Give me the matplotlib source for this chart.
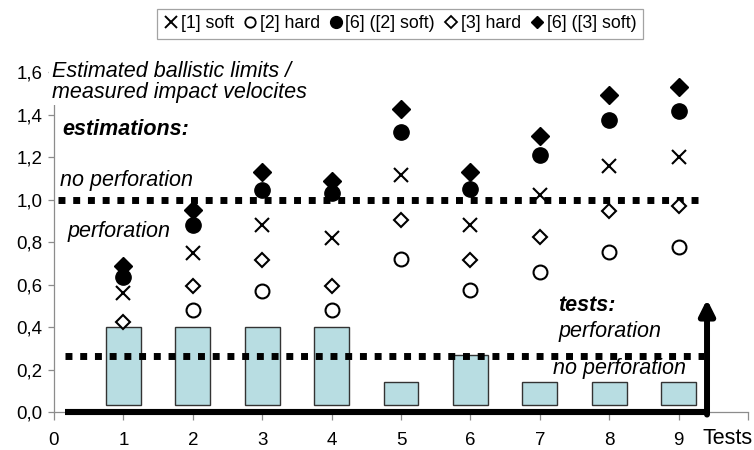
import numpy as np
import matplotlib
matplotlib.use("Agg")
import matplotlib.pyplot as plt
from matplotlib.lines import Line2D

plt.rcParams['font.family'] = ['Liberation Sans', 'DejaVu Sans']

# ---- data -------------------------------------------------------------
tests = [1, 2, 3, 4, 5, 6, 7, 8, 9]

# estimated ballistic limit / measured impact velocity
soft_1 = [0.56, 0.75, 0.88, 0.82, 1.115, 0.88, 1.02, 1.16, 1.20]
hard_2 = [np.nan, 0.48, 0.57, 0.48, 0.72, 0.575, 0.66, 0.755, 0.775]
m6_soft_2 = [0.635, 0.88, 1.045, 1.03, 1.32, 1.05, 1.21, 1.375, 1.415]
hard_3 = [0.425, 0.595, 0.715, 0.595, 0.905, 0.715, 0.825, 0.945, 0.97]
m6_soft_3 = [0.685, 0.95, 1.13, 1.085, 1.425, 1.13, 1.30, 1.49, 1.53]

# test outcome bars (tall = perforation, short = no perforation)
bar_top = [0.40, 0.40, 0.40, 0.40, 0.14, 0.27, 0.14, 0.14, 0.14]
bar_base = 0.035

est_threshold = 1.0
test_threshold = 0.265

x_ticks = [0, 1, 2, 3, 4, 5, 6, 7, 8, 9, 10]
x_ticklabels = ['0', '1', '2', '3', '4', '5', '6', '7', '8', '9', '']
y_ticks = [0.0, 0.2, 0.4, 0.6, 0.8, 1.0, 1.2, 1.4, 1.6]
y_ticklabels = ['0,0', '0,2', '0,4', '0,6', '0,8', '1,0', '1,2', '1,4', '1,6']

# ---- figure -----------------------------------------------------------
fig = plt.figure(figsize=(7.54, 4.5), dpi=100)
ax = fig.add_axes([0.0716, 0.0844, 0.9204, 0.7556])
ax.set_xlim(0, 10)
ax.set_ylim(0, 1.6)

for side in ('top', 'right'):
    ax.spines[side].set_visible(False)
for side in ('left', 'bottom'):
    ax.spines[side].set_color('#8c8c8c')
    ax.spines[side].set_linewidth(0.9)

ax.set_xticks(x_ticks)
ax.set_xticklabels(x_ticklabels)
ax.set_yticks(y_ticks)
ax.set_yticklabels(y_ticklabels)
ax.tick_params(axis='both', colors='#8c8c8c', width=0.9,
               labelsize=13.5, labelcolor='black')
ax.tick_params(axis='x', length=5.5, pad=9)
ax.tick_params(axis='y', length=4.5, pad=4)

# test outcome bars
heights = [t - bar_base for t in bar_top]
ax.bar(tests, heights, bottom=bar_base, width=0.5, color='#b8dde2',
       edgecolor='#333333', linewidth=1.0, zorder=2)

# threshold lines (square dotted)
dot = (0, (1.0, 1.12))
ax.plot([0.06, 9.3], [est_threshold, est_threshold], color='black',
        lw=5, linestyle=dot, dash_capstyle='butt', zorder=3)
ax.plot([0.16, 9.36], [test_threshold, test_threshold], color='black',
        lw=5, linestyle=dot, dash_capstyle='butt', zorder=3)

# thick base line and arrow
ax.plot([0.16, 9.43], [0, 0], color='black', lw=4.4, solid_capstyle='butt',
        zorder=4, clip_on=False)
ax.annotate('', xy=(9.41, 0.53), xytext=(9.41, -0.012),
            arrowprops=dict(arrowstyle='-|>,head_length=0.9,head_width=0.45',
                            color='black', lw=4.3, shrinkA=0, shrinkB=0),
            zorder=4)

# estimations
ax.plot(tests, soft_1, linestyle='none', marker='x', ms=10.5, mew=1.5,
        color='black', zorder=5)
ax.plot(tests, hard_2, linestyle='none', marker='o', ms=10, mew=1.5,
        mfc='white', mec='black', zorder=5)
ax.plot(tests, m6_soft_2, linestyle='none', marker='o', ms=11,
        color='black', zorder=5)
ax.plot(tests, hard_3, linestyle='none', marker='D', ms=7.5, mew=1.5,
        mfc='white', mec='black', zorder=5)
ax.plot(tests, m6_soft_3, linestyle='none', marker='D', ms=9,
        color='black', zorder=5)

# annotations
fs = 15.5
ax.text(-0.03, 1.555, 'Estimated ballistic limits /\nmeasured impact velocites',
        fontsize=fs, style='italic', ha='left', va='center', linespacing=1.0,
        bbox=dict(facecolor='white', edgecolor='none', pad=2), zorder=6)
ax.text(0.12, 1.33, 'estimations:', fontsize=fs, style='italic',
        weight='bold', ha='left', va='center')
ax.text(0.09, 1.09, 'no perforation', fontsize=fs, style='italic',
        ha='left', va='center')
ax.text(0.19, 0.85, 'perforation', fontsize=fs, style='italic',
        ha='left', va='center')
ax.text(7.27, 0.50, 'tests:', fontsize=fs, style='italic', weight='bold',
        ha='left', va='center')
ax.text(7.27, 0.377, 'perforation', fontsize=fs, style='italic',
        ha='left', va='center')
ax.text(7.19, 0.207, 'no perforation', fontsize=fs, style='italic',
        ha='left', va='center')
ax.text(10.07, -0.075, 'Tests', fontsize=fs, ha='right', va='top')

# legend
handles = [
    Line2D([], [], linestyle='none', marker='x', ms=9, mew=1.4, color='black'),
    Line2D([], [], linestyle='none', marker='o', ms=7.5, mew=1.3, mfc='white', mec='black'),
    Line2D([], [], linestyle='none', marker='o', ms=8.5, color='black'),
    Line2D([], [], linestyle='none', marker='D', ms=6, mew=1.3, mfc='white', mec='black'),
    Line2D([], [], linestyle='none', marker='D', ms=6.5, color='black'),
]
labels = ['[1] soft', '[2] hard', '[6] ([2] soft)', '[3] hard', '[6] ([3] soft)']
leg = fig.legend(handles, labels, loc='center', bbox_to_anchor=(0.53, 0.947),
                 ncol=5, fontsize=12.8, frameon=True, fancybox=False,
                 handlelength=0.9, handletextpad=0.1, columnspacing=0.45,
                 borderpad=0.35, borderaxespad=0)
leg.get_frame().set_edgecolor('#8c8c8c')
leg.get_frame().set_linewidth(0.9)

fig.savefig('out.png', dpi=100)
